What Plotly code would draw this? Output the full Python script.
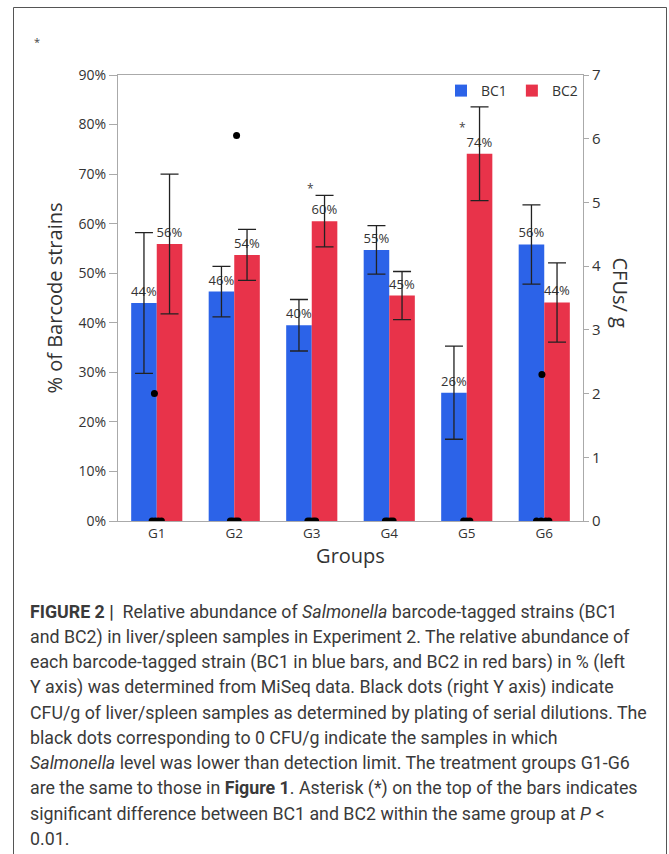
import plotly.graph_objects as go

# ---------------- data ----------------
groups = ["G1", "G2", "G3", "G4", "G5", "G6"]
group_pos = [0, 1, 2, 3, 4, 5]

bc1_values = [44.0, 46.3, 39.5, 54.7, 25.9, 55.8]
bc1_errors = [14.2, 5.1, 5.2, 4.9, 9.4, 8.0]
bc1_labels = ["44%", "46%", "40%", "55%", "26%", "56%"]

bc2_values = [55.9, 53.7, 60.5, 45.5, 74.1, 44.1]
bc2_errors = [14.1, 5.15, 5.2, 4.85, 9.45, 8.0]
bc2_labels = ["56%", "54%", "60%", "45%", "74%", "44%"]

# CFU/g dots (right axis): group index, small horizontal jitter, value
dot_group = [0, 0, 0, 0, 0,
             1, 1, 1, 1, 1,
             2, 2, 2, 2,
             3, 3, 3, 3,
             4, 4, 4,
             5, 5, 5, 5, 5]
dot_jitter = [-0.03, -0.06, -0.02, 0.02, 0.06,
              0.03, -0.05, -0.02, 0.02, 0.05,
              -0.05, -0.02, 0.02, 0.05,
              -0.05, -0.02, 0.02, 0.05,
              -0.04, 0.0, 0.04,
              -0.03, -0.10, -0.04, 0.02, 0.06]
dot_cfu = [2.0, 0, 0, 0, 0,
           6.05, 0, 0, 0, 0,
           0, 0, 0, 0,
           0, 0, 0, 0,
           0, 0, 0,
           2.3, 0, 0, 0, 0]

# significance asterisks (group position, height in %)
sig_group = [1.98, 3.95]
sig_y = [67.0, 79.5]

left_ticks = [0, 10, 20, 30, 40, 50, 60, 70, 80, 90]
right_ticks = [0, 1, 2, 3, 4, 5, 6, 7]

caption_lines = [
    "<b>FIGURE 2 |</b>  Relative abundance of <i>Salmonella</i> barcode-tagged strains (BC1",
    "and BC2) in liver/spleen samples in Experiment 2. The relative abundance of",
    "each barcode-tagged strain (BC1 in blue bars, and BC2 in red bars) in % (left",
    "Y axis) was determined from MiSeq data. Black dots (right Y axis) indicate",
    "CFU/g of liver/spleen samples as determined by plating of serial dilutions. The",
    "black dots corresponding to 0 CFU/g indicate the samples in which",
    "<i>Salmonella</i> level was lower than detection limit. The treatment groups G1-G6",
    "are the same to those in <b>Figure 1</b>. Asterisk (*) on the top of the bars indicates",
    "significant difference between BC1 and BC2 within the same group at <i>P</i> <",
    "0.01.",
]

# ---------------- figure ----------------
W, H = 669, 854
L, R, T, B = 118, 86, 75, 333
PW = W - L - R
PH = H - T - B

BLUE = "#2c63e8"
RED = "#e8334a"
CHART_FONT = "Open Sans, Noto Sans, sans-serif"

fig = go.Figure()

fig.add_trace(go.Bar(
    x=group_pos, y=bc1_values, name="BC1",
    marker=dict(color=BLUE, line=dict(width=0)),
    error_y=dict(type="data", array=bc1_errors, color="#222222", thickness=1.3, width=9),
    text=bc1_labels, textposition="outside", constraintext="none", cliponaxis=False,
    textfont=dict(family=CHART_FONT, size=13, color="#333333"),
))
fig.add_trace(go.Bar(
    x=group_pos, y=bc2_values, name="BC2",
    marker=dict(color=RED, line=dict(width=0)),
    error_y=dict(type="data", array=bc2_errors, color="#222222", thickness=1.3, width=9),
    text=bc2_labels, textposition="outside", constraintext="none", cliponaxis=False,
    textfont=dict(family=CHART_FONT, size=13, color="#333333"),
))

dot_x = [g + j for g, j in zip(dot_group, dot_jitter)]
fig.add_trace(go.Scatter(
    x=dot_x, y=dot_cfu, yaxis="y2", mode="markers", showlegend=False,
    marker=dict(color="#000000", size=7),
    cliponaxis=True,
))

for g, yv in zip(sig_group, sig_y):
    fig.add_annotation(x=g, y=yv, xref="x", yref="y", text="*", showarrow=False,
                       font=dict(family=CHART_FONT, size=12, color="#444444"))

# stray asterisk at top-left of the figure panel
fig.add_annotation(x=(31.5 - L) / PW, y=(H - B - 32) / PH, xref="paper", yref="paper",
                   text="*", showarrow=False, font=dict(family=CHART_FONT, size=11, color="#444444"))

# right axis title (reads top to bottom)
fig.add_annotation(x=(636 - L) / PW, y=(H - B - 293) / PH, xref="paper", yref="paper",
                   text="CFUs/ g", textangle=90, showarrow=False,
                   font=dict(family=CHART_FONT, size=20, color="#333333"))

# outer frame
fig.add_shape(type="rect", xref="paper", yref="paper",
              x0=(13.5 - L) / PW, x1=(666.5 - L) / PW,
              y0=(H - B - 870) / PH, y1=(H - B - 7.5) / PH,
              line=dict(color="#555555", width=1), layer="below")

# caption
cap_y0 = 611.7
cap_dy = 25.2
for i, line in enumerate(caption_lines):
    ypix = cap_y0 + i * cap_dy
    fig.add_annotation(x=(28 - L) / PW, y=(H - B - ypix) / PH, xref="paper", yref="paper",
                       xanchor="left", yanchor="middle", align="left",
                       text=line, showarrow=False,
                       font=dict(family="Roboto, Liberation Sans, sans-serif", size=17.8, color="#3a3a3a"))

fig.update_layout(
    width=W, height=H,
    margin=dict(l=L, r=R, t=T, b=B, pad=0),
    paper_bgcolor="white", plot_bgcolor="white",
    barmode="group", bargap=0.34, bargroupgap=0.0,
    font=dict(family=CHART_FONT, color="#444444"),
    showlegend=True,
    legend=dict(orientation="h", x=1.0, xanchor="right", y=1.0, yanchor="top",
                bgcolor="rgba(0,0,0,0)", font=dict(family=CHART_FONT, size=14, color="#333333"),
                traceorder="normal"),
    xaxis=dict(
        range=[-0.5, 5.5], tickmode="array", tickvals=group_pos, ticktext=groups,
        showline=True, linecolor="#aaaaaa", linewidth=1, mirror=True,
        ticks="", showgrid=False, zeroline=False,
        tickfont=dict(family=CHART_FONT, size=13.5, color="#333333"),
        title=dict(text="Groups", font=dict(family=CHART_FONT, size=20, color="#333333"), standoff=4),
    ),
    yaxis=dict(
        range=[0, 90], tickmode="array", tickvals=left_ticks,
        ticktext=[f"{v}%" for v in left_ticks],
        showline=True, linecolor="#aaaaaa", linewidth=1,
        ticks="outside", ticklen=8, tickcolor="#aaaaaa",
        showgrid=False, zeroline=False,
        tickfont=dict(family=CHART_FONT, size=14, color="#333333"),
        title=dict(text="% of Barcode strains", font=dict(family=CHART_FONT, size=20, color="#333333"), standoff=10),
    ),
    yaxis2=dict(
        overlaying="y", side="right", range=[0, 7], tickmode="array", tickvals=right_ticks,
        showline=True, linecolor="#aaaaaa", linewidth=1,
        ticks="outside", ticklen=5, tickcolor="#aaaaaa",
        showgrid=False, zeroline=False,
        tickfont=dict(family=CHART_FONT, size=15, color="#333333"),
    ),
)

fig.write_html("out.html", config={"displayModeBar": False},
               post_script="document.body.style.margin='0';document.body.style.overflow='hidden';")
